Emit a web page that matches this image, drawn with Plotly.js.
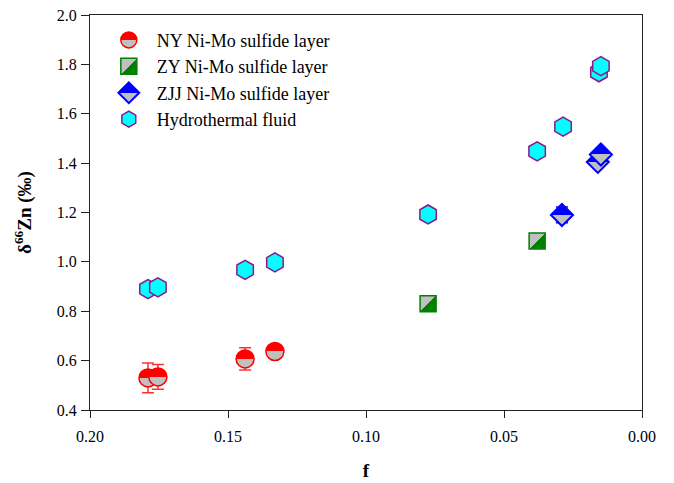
<!DOCTYPE html>
<html><head><meta charset="utf-8">
<script src="https://cdn.plot.ly/plotly-3.0.1.min.js"></script>
<style>html,body{margin:0;padding:0;background:#fff}</style>
</head><body>
<div id="chart" style="width:674px;height:483px"></div>
<script>
// ---- data ----
const nyName = 'NY Ni-Mo sulfide layer';
const nyF = [0.1790, 0.1754, 0.1438, 0.1330];
const nyD = [0.530, 0.534, 0.607, 0.637];
const nyErr = [0.060, 0.050, 0.045, 0.020];

const zyName = 'ZY Ni-Mo sulfide layer';
const zyF = [0.0775, 0.0380];
const zyD = [0.830, 1.085];

const zjjName = 'ZJJ Ni-Mo sulfide layer';
const zjjF = [0.0290, 0.0160, 0.0149];
const zjjD = [1.190, 1.405, 1.435];
const zjjErr = [0.032, 0.015, 0.015];

const fluidName = 'Hydrothermal fluid';
const fluidF = [0.1790, 0.1754, 0.1438, 0.1330, 0.0775, 0.0380, 0.0286, 0.0156, 0.0149];
const fluidD = [0.890, 0.897, 0.968, 0.998, 1.192, 1.448, 1.548, 1.768, 1.793];

const xTickVals = [0.20, 0.15, 0.10, 0.05, 0.00];
const yTickVals = [0.4, 0.6, 0.8, 1.0, 1.2, 1.4, 1.6, 1.8, 2.0];

const FONT = 'Liberation Serif, Times New Roman, serif';

const traces = [
  {
    type: 'scatter', mode: 'markers', name: nyName, uid: 'nyhalf',
    x: nyF, y: nyD,
    error_y: {type: 'data', array: nyErr, visible: true, color: '#ff3030', thickness: 1.5, width: 6},
    marker: {symbol: 'circle', size: 18, color: '#ff0000',
             gradient: {type: 'vertical', color: '#c0c0c0'},
             line: {color: '#ff0000', width: 1.5}}
  },
  {
    type: 'scatter', mode: 'markers', name: zyName, uid: 'zyhalf',
    x: zyF, y: zyD,
    marker: {symbol: 'square', size: 16, color: '#008000',
             gradient: {type: 'vertical', color: '#c0c0c0'},
             line: {color: '#008000', width: 1.5}}
  },
  {
    type: 'scatter', mode: 'markers', name: zjjName, uid: 'zjjhalf',
    x: zjjF, y: zjjD,
    error_y: {type: 'data', array: zjjErr, visible: true, color: '#0000ff', thickness: 1.5, width: 6},
    marker: {symbol: 'diamond', size: 17, color: '#0000ff',
             gradient: {type: 'vertical', color: '#c0c0c0'},
             line: {color: '#0000ff', width: 2}}
  },
  {
    type: 'scatter', mode: 'markers', name: fluidName, uid: 'fluid',
    x: fluidF, y: fluidD,
    marker: {symbol: 'hexagon', size: 19, color: '#00ffff',
             line: {color: '#8b1a8b', width: 1.5}}
  }
];

const axisCommon = {
  showline: true, linecolor: '#222', linewidth: 1,
  ticks: 'outside', tickwidth: 1, tickcolor: '#222',
  showgrid: false, zeroline: false, mirror: true,
  tickfont: {family: FONT, size: 16, color: '#000'}
};

const layout = {
  width: 674, height: 483,
  margin: {l: 90, r: 32, t: 15, b: 73},
  paper_bgcolor: '#fff', plot_bgcolor: '#fff',
  showlegend: true,
  legend: {x: 0.0196, y: 0.983, xanchor: 'left', yanchor: 'top',
           bgcolor: 'rgba(0,0,0,0)', borderwidth: 0, itemwidth: 46,
           font: {family: FONT, size: 18, color: '#000'}, tracegroupgap: 0},
  xaxis: Object.assign({}, axisCommon, {
    range: [0.2, 0.0], tickvals: xTickVals, tickformat: '.2f', ticklen: 7,
    ticklabelstandoff: 5,
    title: {text: '<b>f</b>', font: {family: FONT, size: 19, color: '#000'}, standoff: 19}
  }),
  yaxis: Object.assign({}, axisCommon, {
    range: [0.4, 2.0], tickvals: yTickVals, tickformat: '.1f', ticklen: 8,
    ticklabelstandoff: 1,
    title: {text: '<b>δ<sup>66</sup>Zn (‰)</b>', font: {family: FONT, size: 19, color: '#000'}, standoff: 20}
  })
};

function hardSplitGradients() {
  document.querySelectorAll('linearGradient').forEach(function (g) {
    g.querySelectorAll('stop').forEach(function (s) { s.setAttribute('offset', '50%'); });
    if (g.id.indexOf('zyhalf') >= 0) {
      g.setAttribute('x1', '0'); g.setAttribute('y1', '0');
      g.setAttribute('x2', '1'); g.setAttribute('y2', '1');
    }
  });
}

Plotly.newPlot('chart', traces, layout, {displayModeBar: false, staticPlot: true})
  .then(hardSplitGradients);
</script>
</body></html>
